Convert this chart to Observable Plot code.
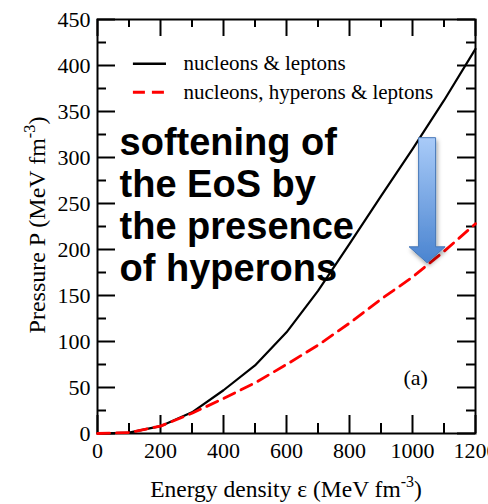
<!DOCTYPE html>
<html><head><meta charset="utf-8">
<script src="https://cdn.jsdelivr.net/npm/d3@7"></script>
<script src="https://cdn.jsdelivr.net/npm/@observablehq/plot@0.6"></script>
<style>
html,body{margin:0;padding:0;background:#fff;overflow:hidden;width:488px;height:504px;}
</style></head><body><div id="chart"></div>
<script>
// ---- data ----
const energy = [0, 100, 200, 300, 400, 500, 600, 700, 800, 900, 1000, 1100, 1200];
const pNucleonsLeptons = [0, 1, 8, 23, 47, 74, 110, 155, 206, 258, 309, 362, 418];
const pWithHyperons   = [0, 1, 8, 22, 38, 55, 75, 96, 120, 146, 170, 198, 228];
const seriesNames = ["nucleons & leptons", "nucleons, hyperons & leptons"];
const seriesColors = ["#000000", "#ff0000"];

const xMajorTicks = [0, 200, 400, 600, 800, 1000, 1200];
const xMinorTicks = [100, 300, 500, 700, 900, 1100];
const yMajorTicks = [0, 50, 100, 150, 200, 250, 300, 350, 400, 450];
const yMinorTicks = [25, 75, 125, 175, 225, 275, 325, 375, 425];

const noteLines = ["softening of", "the EoS by", "the presence", "of hyperons"];
const noteAt = [70, 166];          // energy, pressure of last baseline
const panelLabel = "(a)";
const panelAt = [1010, 60];
const legendSampleX = [114, 219];
const legendTextX = 273;
const legendY = [402, 371];
const arrowEnergy = 1048, arrowFromP = 321, arrowToP = 185;

const xLabel = ["Energy density \u03b5 (MeV fm", "-3", ")"];
const yLabel = ["Pressure P (MeV fm", "-3", ")"];

// ---- layout ----
const W = 488, H = 504, mt = 19, mr = 13, mb = 71, ml = 97;
const innerW = W - ml - mr, innerH = H - mt - mb;

const black = energy.map((e, i) => ({e, p: pNucleonsLeptons[i]}));
const red = energy.map((e, i) => ({e, p: pWithHyperons[i]}));
const legendRows = seriesNames.map((name, i) => ({name, color: seriesColors[i], y: legendY[i], dashed: i === 1}));

const serif = "'Liberation Serif', 'Times New Roman', serif";
const sans = "'Liberation Sans', Arial, sans-serif";

const chart = Plot.plot({
  width: W, height: H,
  marginTop: mt, marginRight: mr, marginBottom: mb, marginLeft: ml,
  style: {fontFamily: serif, background: "white", color: "black", overflow: "visible"},
  x: {domain: [0, 1200]},
  y: {domain: [0, 450]},
  marks: [
    Plot.axisX(xMajorTicks, {tickSize: 0, tickPadding: 9, fontSize: 22, tickFormat: d => String(d), label: null, fill: "black"}),
    Plot.axisY(yMajorTicks, {tickSize: 0, tickPadding: 7, fontSize: 22, tickFormat: d => String(d), label: null, fill: "black"}),
    // inward ticks on all four sides
    Plot.ruleX(xMajorTicks, {x: d => d, insetTop: innerH - 18, stroke: "black", strokeWidth: 2}),
    Plot.ruleX(xMinorTicks, {x: d => d, insetTop: innerH - 10, stroke: "black", strokeWidth: 2}),
    Plot.ruleX(xMajorTicks, {x: d => d, insetBottom: innerH - 17, stroke: "black", strokeWidth: 2}),
    Plot.ruleX(xMinorTicks, {x: d => d, insetBottom: innerH - 8, stroke: "black", strokeWidth: 2}),
    Plot.ruleY(yMajorTicks, {y: d => d, insetRight: innerW - 18, stroke: "black", strokeWidth: 2}),
    Plot.ruleY(yMinorTicks, {y: d => d, insetRight: innerW - 9, stroke: "black", strokeWidth: 2}),
    Plot.ruleY(yMajorTicks, {y: d => d, insetLeft: innerW - 18, stroke: "black", strokeWidth: 2}),
    Plot.ruleY(yMinorTicks, {y: d => d, insetLeft: innerW - 9, stroke: "black", strokeWidth: 2}),
    Plot.frame({stroke: "black", strokeWidth: 2}),
    // curves
    Plot.line(black, {x: "e", y: "p", stroke: seriesColors[0], strokeWidth: 2.2}),
    Plot.line(red, {x: "e", y: "p", stroke: seriesColors[1], strokeWidth: 2.8, strokeDasharray: "12,7"}),
    // legend
    Plot.ruleY(legendRows.filter(d => !d.dashed), {y: "y", x1: legendSampleX[0], x2: legendSampleX[1], stroke: "color", strokeWidth: 2.5}),
    Plot.ruleY(legendRows.filter(d => d.dashed), {y: "y", x1: legendSampleX[0], x2: legendSampleX[1], stroke: "color", strokeWidth: 3, strokeDasharray: "12,7"}),
    Plot.text(legendRows, {x: legendTextX, y: "y", text: "name", textAnchor: "start", lineAnchor: "middle", fontSize: 21, fill: "black"}),
    // annotation
    Plot.text([noteLines.join("\n")], {x: noteAt[0], y: noteAt[1], text: d => d, textAnchor: "start", lineAnchor: "bottom", fontSize: 38, lineHeight: 42 / 38, fontWeight: "bold", fontFamily: sans, fill: "black"}),
    Plot.text([panelLabel], {x: panelAt[0], y: panelAt[1], text: d => d, textAnchor: "middle", lineAnchor: "middle", fontSize: 22, fill: "black"})
  ]
});
document.getElementById("chart").appendChild(chart);

// ---- arrow annotation + axis labels with superscripts ----
const sx = chart.scale("x"), sy = chart.scale("y");
const svg = d3.select(chart);
const defs = svg.append("defs");
const grad = defs.append("linearGradient").attr("id", "arrowGrad").attr("x1", 0).attr("y1", 0).attr("x2", 0).attr("y2", 1);
grad.append("stop").attr("offset", "0%").attr("stop-color", "#a9cbf8");
grad.append("stop").attr("offset", "100%").attr("stop-color", "#4a84d0");
const filt = defs.append("filter").attr("id", "arrowShadow").attr("x", "-50%").attr("y", "-20%").attr("width", "200%").attr("height", "150%");
filt.append("feDropShadow").attr("dx", 1.5).attr("dy", 3).attr("stdDeviation", 2).attr("flood-color", "#000").attr("flood-opacity", 0.35);

const ax = sx.apply(arrowEnergy), ay0 = sy.apply(arrowFromP), ay1 = sy.apply(arrowToP);
const shaftHalf = 8.5, headHalf = 18, headLen = 16;
const pts = [
  [ax - shaftHalf, ay0], [ax + shaftHalf, ay0], [ax + shaftHalf, ay1 - headLen], [ax + headHalf, ay1 - headLen],
  [ax, ay1], [ax - headHalf, ay1 - headLen], [ax - shaftHalf, ay1 - headLen]
];
svg.append("polygon").attr("points", pts.map(p => p.join(",")).join(" "))
  .attr("fill", "url(#arrowGrad)").attr("stroke", "#4577b8").attr("stroke-width", 1)
  .attr("filter", "url(#arrowShadow)");

function addLabel(parts, transform, size) {
  const t = svg.append("text").attr("transform", transform).attr("text-anchor", "middle")
    .attr("font-family", serif).attr("font-size", size).attr("fill", "black");
  t.append("tspan").text(parts[0]);
  t.append("tspan").attr("dy", -10).attr("font-size", size * 0.68).text(parts[1]);
  t.append("tspan").attr("dy", 10).text(parts[2]);
}
addLabel(xLabel, `translate(${(ml + W - mr) / 2},497)`, 23.5);
addLabel(yLabel, `translate(45,225) rotate(-90)`, 24);
</script>
</body></html>
